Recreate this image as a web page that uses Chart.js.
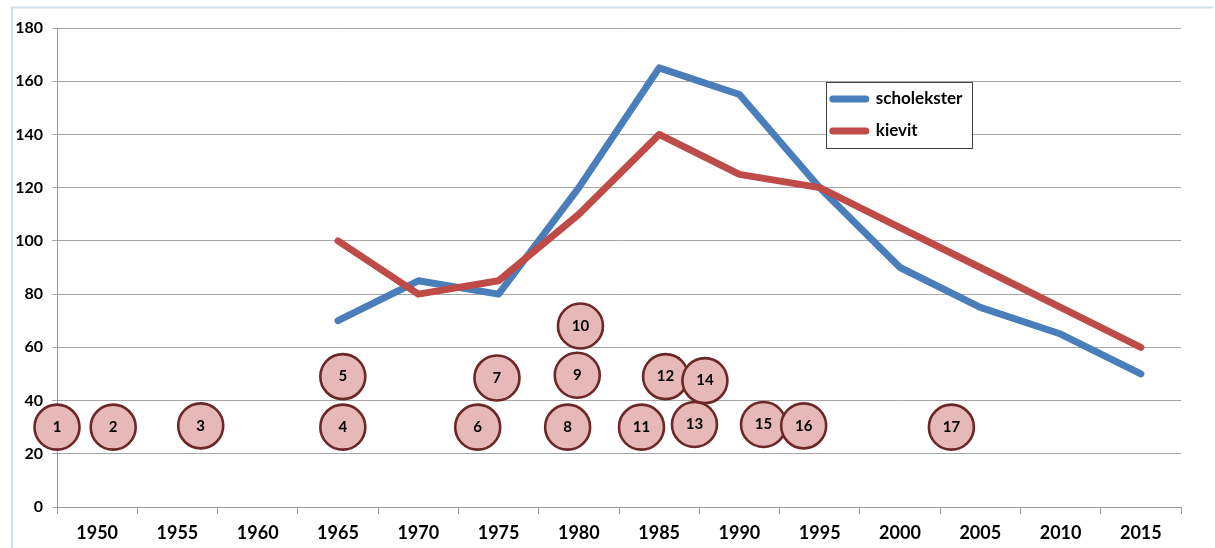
<!DOCTYPE html>
<html><head><meta charset="utf-8">
<script src="https://cdn.jsdelivr.net/npm/chart.js@4/dist/chart.umd.min.js"></script>
<style>html,body{margin:0;padding:0;background:#fff;overflow:hidden}#wrap{width:1215px;height:548px;position:relative}</style>
</head><body><div id="wrap"><canvas id="c" width="1215" height="548"></canvas></div>
<script>
const years = ['1950','1955','1960','1965','1970','1975','1980','1985','1990','1995','2000','2005','2010','2015'];
const scholekster = [null,null,null,70,85,80,120,165,155,120,90,75,65,50];
const kievit = [null,null,null,100,80,85,110,140,125,120,105,90,75,60];
const seriesNames = ['scholekster','kievit'];
const markerLabels = ['1','2','3','4','5','6','7','8','9','10','11','12','13','14','15','16','17'];
const markerYears = [1947.5,1951.0,1956.45,1965.3,1965.3,1973.7,1974.9,1979.3,1979.9,1980.1,1983.9,1985.4,1987.2,1987.85,1991.5,1994.0,2003.2];
const markerValues = [30,30,30.5,30,49,30,48.5,30,49.5,68,30,49,31,47.5,31,30.5,30];
const yTicks = [0,20,40,60,80,100,120,140,160,180];

const FONT = 'Lato, "Liberation Sans", Arial, sans-serif';
const BLUE = '#4a7ebb';
const RED = '#be4b48';

const framePlugin = {
  id: 'frame',
  beforeDraw(chart) {
    const ctx = chart.ctx;
    ctx.save();
    ctx.strokeStyle = '#cfe2e7';
    ctx.lineWidth = 2;
    ctx.beginPath();
    ctx.moveTo(12, 548); ctx.lineTo(12, 7.5); ctx.lineTo(1213, 7.5);
    ctx.stroke();
    ctx.restore();
  }
};

const markerTextPlugin = {
  id: 'markerText',
  afterDatasetsDraw(chart) {
    const ctx = chart.ctx;
    const meta = chart.getDatasetMeta(2);
    ctx.save();
    ctx.font = 'bold 15px ' + FONT;
    ctx.fillStyle = '#000';
    ctx.textAlign = 'center';
    ctx.textBaseline = 'middle';
    meta.data.forEach((el, i) => {
      ctx.fillText(markerLabels[i], el.x, el.y);
    });
    ctx.restore();
  }
};

const legendPlugin = {
  id: 'boxLegend',
  afterDraw(chart) {
    const ctx = chart.ctx;
    const area = chart.chartArea;
    const x0 = area.left + (area.right - area.left) * 0.684;
    const y0 = area.top + 54;
    const w = 146, h = 66;
    ctx.save();
    ctx.fillStyle = '#fff';
    ctx.fillRect(x0, y0, w, h);
    ctx.strokeStyle = '#404040';
    ctx.lineWidth = 1;
    ctx.strokeRect(Math.round(x0) + 0.5, Math.round(y0) + 0.5, w, h);
    const colors = [BLUE, RED];
    ctx.font = 'bold 17px ' + FONT;
    ctx.textBaseline = 'middle';
    ctx.lineCap = 'round';
    seriesNames.forEach((name, i) => {
      const yy = y0 + 17 + i * 32;
      ctx.strokeStyle = colors[i];
      ctx.lineWidth = 7;
      ctx.beginPath();
      ctx.moveTo(x0 + 7, yy);
      ctx.lineTo(x0 + 40, yy);
      ctx.stroke();
      ctx.fillStyle = '#000';
      ctx.fillText(name, x0 + 50, yy);
    });
    ctx.restore();
  }
};

new Chart(document.getElementById('c'), {
  data: {
    labels: years,
    datasets: [
      { type: 'line', label: seriesNames[0], data: scholekster, borderColor: BLUE, borderWidth: 7,
        pointRadius: 0, borderCapStyle: 'round', borderJoinStyle: 'round', order: 3, spanGaps: false, xAxisID: 'x' },
      { type: 'line', label: seriesNames[1], data: kievit, borderColor: RED, borderWidth: 7,
        pointRadius: 0, borderCapStyle: 'round', borderJoinStyle: 'round', order: 2, xAxisID: 'x' },
      { type: 'scatter', label: 'markers', data: markerYears.map((yr, i) => ({x: yr, y: markerValues[i]})),
        xAxisID: 'xb', pointRadius: 22.5, pointBackgroundColor: '#e6b9b8', pointBorderColor: '#6b2826',
        pointBorderWidth: 2.6, order: 1, clip: false }
    ]
  },
  options: {
    responsive: false,
    animation: false,
    events: [],
    layout: { padding: { top: 28, right: 34, bottom: 0, left: 0 } },
    plugins: { legend: { display: false }, tooltip: { enabled: false } },
    scales: {
      x: {
        type: 'category', offset: true,
        grid: { drawOnChartArea: false, drawTicks: true, tickLength: 7, color: '#999', offset: true },
        border: { color: '#999', width: 1 },
        ticks: { font: { family: FONT, size: 18, weight: 'bold' }, color: '#000', padding: 8, maxRotation: 0, autoSkip: false },
        afterFit: s => { s.height = 41; }
      },
      xb: { type: 'linear', display: false, min: 1947.5, max: 2017.5 },
      y: {
        min: 0, max: 180,
        afterBuildTicks: s => { s.ticks = yTicks.map(v => ({ value: v })); },
        grid: { color: '#a6a6a6', tickLength: 5 },
        border: { color: '#999', width: 1 },
        ticks: { font: { family: FONT, size: 16, weight: 'bold' }, color: '#000', padding: 9 },
        afterFit: s => { s.width = 57; }
      }
    }
  },
  plugins: [framePlugin, markerTextPlugin, legendPlugin]
});
</script></body></html>
